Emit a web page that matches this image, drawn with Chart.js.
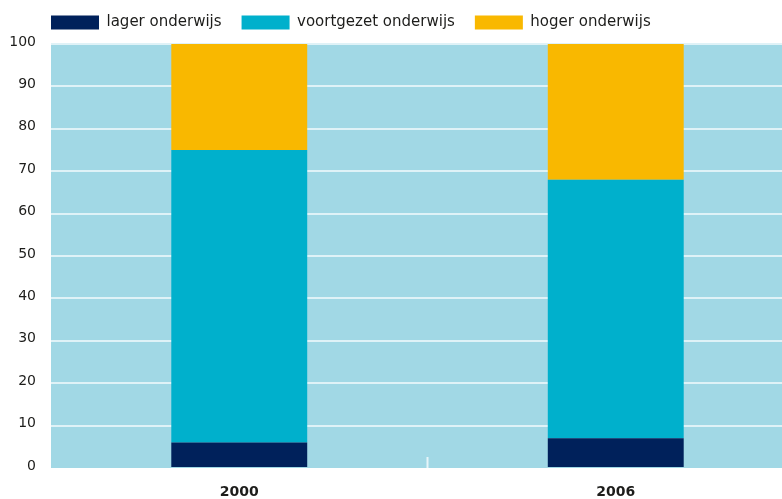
<!DOCTYPE html>
<html>
<head>
<meta charset="utf-8">
<script src="https://cdn.jsdelivr.net/npm/chart.js@4"></script>
<style>
  html, body { margin: 0; padding: 0; overflow: hidden; background: #fff; }
  #chart { display: block; }
</style>
</head>
<body>
<canvas id="chart" width="804" height="499"></canvas>
<script>
// data (percent)
const years = ["2000", "2006"];
const lagerOnderwijs = [6, 7];
const voortgezetOnderwijs = [69, 61];
const hogerOnderwijs = [25, 32];
const yTicks = [0, 10, 20, 30, 40, 50, 60, 70, 80, 90, 100];

const textColor = "#1d1d1b";
const fontFamily = "'DejaVu Sans', 'Open Sans', sans-serif";

// === plot background + small tick between the two years ===
const plotBackground = {
  id: "plotBackground",
  beforeDraw(chart) {
    const { ctx, chartArea } = chart;
    ctx.save();
    ctx.fillStyle = "#a1d8e5";
    ctx.fillRect(chartArea.left, chartArea.top, chartArea.right - chartArea.left, chartArea.bottom - chartArea.top);
    ctx.restore();
  },
  afterDatasetsDraw(chart) {
    const { ctx, chartArea, scales } = chart;
    const mid = (scales.x.getPixelForValue(0) + scales.x.getPixelForValue(1)) / 2;
    ctx.save();
    ctx.strokeStyle = "#e6f5f9";
    ctx.lineWidth = 2;
    ctx.beginPath();
    ctx.moveTo(mid, chartArea.bottom);
    ctx.lineTo(mid, chartArea.bottom - 11);
    ctx.stroke();
    ctx.restore();
  }
};

// === legend placement ===
const legendPlace = {
  id: "legendPlace",
  beforeInit(chart) {
    const fit = chart.legend.fit;
    chart.legend.fit = function () {
      fit.call(this);
      this.height = 44;
    };
  },
  afterLayout(chart) {
    chart.legend.left = 31;
    chart.legend.top = -5;
  }
};

new Chart(document.getElementById("chart"), {
  type: "bar",
  data: {
    labels: years,
    datasets: [
      { label: "lager onderwijs", data: lagerOnderwijs, backgroundColor: "#00215b" },
      { label: "voortgezet onderwijs", data: voortgezetOnderwijs, backgroundColor: "#00b0cc" },
      { label: "hoger onderwijs", data: hogerOnderwijs, backgroundColor: "#f9b800" }
    ]
  },
  options: {
    responsive: false,
    animation: false,
    layout: { padding: 0 },
    datasets: {
      bar: { categoryPercentage: 1, barPercentage: 0.361 }
    },
    plugins: {
      legend: {
        position: "top",
        align: "start",
        labels: {
          boxWidth: 48,
          boxHeight: 14,
          padding: 20,
          color: textColor,
          font: { family: fontFamily, size: 15 }
        }
      },
      tooltip: { enabled: false }
    },
    scales: {
      x: {
        stacked: true,
        border: { display: false },
        grid: { display: false, drawTicks: false },
        ticks: {
          color: textColor,
          padding: 16,
          font: { family: fontFamily, size: 14, weight: "bold" }
        },
        afterFit(scale) { scale.height = 31; }
      },
      y: {
        stacked: true,
        min: 0,
        max: 100,
        border: { display: false },
        grid: {
          drawTicks: false,
          lineWidth: 2,
          color: ctx => (ctx.tick && ctx.tick.value === 0 ? "rgba(0,0,0,0)" : "#dff2f7")
        },
        afterBuildTicks(scale) {
          scale.ticks = yTicks.map(v => ({ value: v }));
        },
        ticks: {
          color: textColor,
          padding: 15,
          labelOffset: -2,
          font: { family: fontFamily, size: 14 }
        },
        afterFit(scale) { scale.width = 51; }
      }
    }
  },
  plugins: [plotBackground, legendPlace]
});
</script>
</body>
</html>
